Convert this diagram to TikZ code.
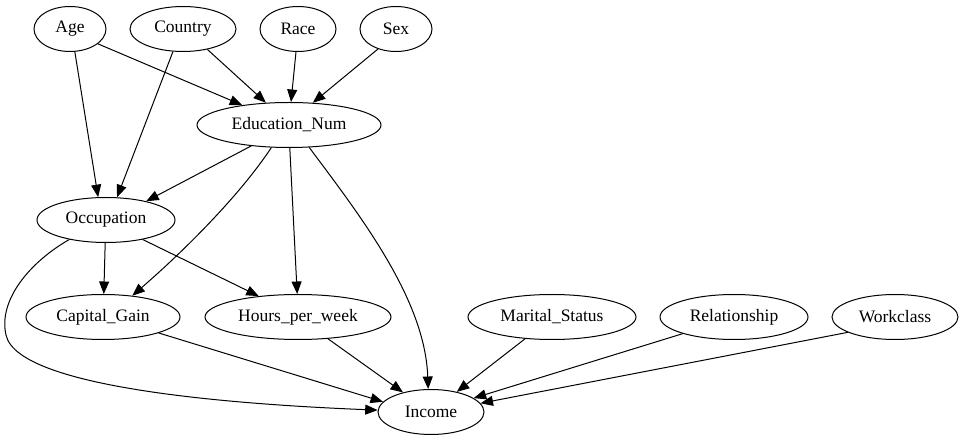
\documentclass[tikz,border=0pt]{standalone}
\usepackage{fontspec}
\setmainfont{Liberation Serif}
\usetikzlibrary{shapes.geometric,arrows.meta}
\begin{document}
\begin{tikzpicture}[x=1pt,y=-1pt,
  vnode/.style={draw,ellipse,line width=1pt,inner sep=0pt,font=\fontsize{17.5}{20}\selectfont,minimum height=45pt},
  arr/.style={line width=1pt,-{Triangle[length=12.5pt,width=10pt]}}]
\useasboundingbox (0,0) rectangle (964,443);
\node[vnode,minimum width=72pt]  (age) at (70,29) {Age};
\node[vnode,minimum width=106pt] (country) at (183,29) {Country};
\node[vnode,minimum width=76pt]  (race) at (298,29) {Race};
\node[vnode,minimum width=72pt]  (sex) at (396,29) {Sex};
\node[vnode,minimum width=184pt] (en) at (289,125) {Education\_Num};
\node[vnode,minimum width=138pt] (occ) at (106,220) {Occupation};
\node[vnode,minimum width=154pt] (cg) at (103,317) {Capital\_Gain};
\node[vnode,minimum width=186pt] (hpw) at (298,317) {Hours\_per\_week};
\node[vnode,minimum width=168pt] (ms) at (552,317) {Marital\_Status};
\node[vnode,minimum width=148pt] (rel) at (734,317) {Relationship};
\node[vnode,minimum width=126pt] (wc) at (895,317) {Workclass};
\node[vnode,minimum width=106pt] (inc) at (431,412) {Income};
\coordinate (occbend) at (6,335);

\draw[arr] (age.-28) -- (en.157);
\draw[arr] (country.-40) -- (en.136);
\draw[arr] (race.-95) -- (en.85);
\draw[arr] (sex.-132) -- (en.43);
\draw[arr] (age.-78) -- (occ.109);
\draw[arr] (country.-114) -- (occ.64);
\draw[arr] (en.-151) -- (occ.25);
\draw[arr] (occ.-92) -- (cg.88);
\draw[arr] (occ.-28) -- (hpw.152);
\draw[arr] (en.-88) -- (hpw.92);
\draw[arr] (en.-128) .. controls (240,195) and (185,250) .. (cg.36);
\draw[arr] (en.-48) .. controls (362,218) and (425,300) .. (inc.97);
\draw[arr] (occ.-152) .. controls (30,262) and (-2,300) .. (occbend) .. controls (18,390) and (250,405) .. (inc.178);
\draw[arr] (cg.-16) -- (inc.168);
\draw[arr] (hpw.-36) -- (inc.145);
\draw[arr] (ms.-141) -- (inc.38);
\draw[arr] (rel.-162) -- (inc.18);
\draw[arr] (wc.-162) -- (inc.10);
\end{tikzpicture}
\end{document}
